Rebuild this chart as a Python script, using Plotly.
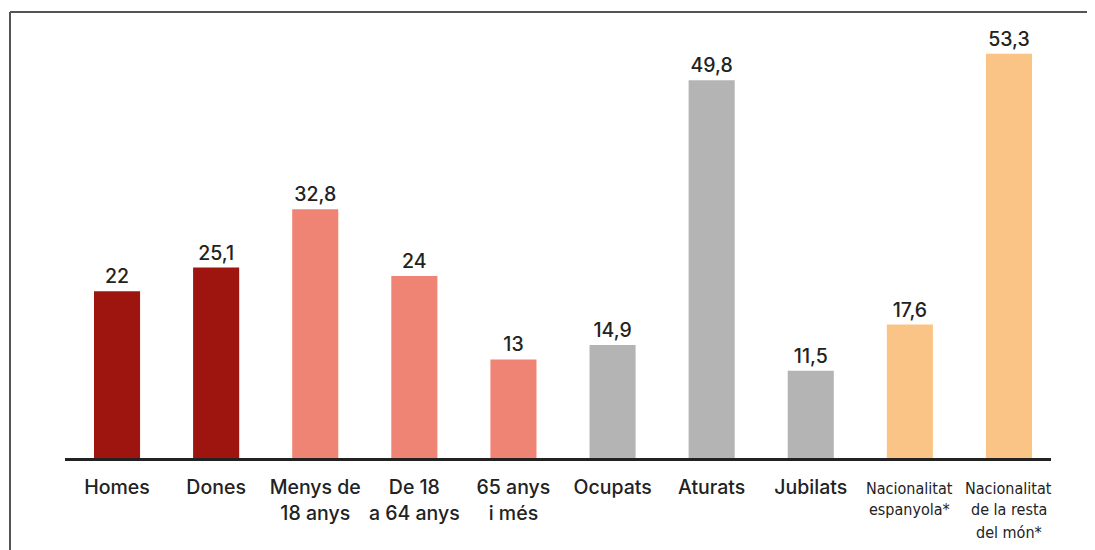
import plotly.graph_objects as go

categories = ["Homes", "Dones", "Menys de<br>18 anys", "De 18<br>a 64 anys", "65 anys<br>i més",
              "Ocupats", "Aturats", "Jubilats", "", ""]
small_labels = {8: ["Nacionalitat", "espanyola*"], 9: ["Nacionalitat", "de la resta", "del món*"]}
values = [22, 25.1, 32.8, 24, 13, 14.9, 49.8, 11.5, 17.6, 53.3]
value_labels = ["22", "25,1", "32,8", "24", "13", "14,9", "49,8", "11,5", "17,6", "53,3"]
colors = ["#9E1510", "#9E1510", "#F08474", "#F08474", "#F08474",
          "#B4B4B4", "#B4B4B4", "#B4B4B4", "#FBC487", "#FBC487"]

W, H = 1095, 550
OFF = 8  # page body margin
L, R, T, B = 65 - OFF, 44 + OFF, 12 - OFF, 92 + OFF

fig = go.Figure(go.Bar(
    x=list(range(len(values))), y=values, marker=dict(color=colors, line=dict(width=0)),
    text=value_labels, textposition="outside", cliponaxis=False,
    textfont=dict(size=19.5, color="#222222", family="Inter", weight=500),
    width=0.465,
))

fig.update_layout(
    width=W, height=H, margin=dict(l=L, r=R, t=T, b=B),
    paper_bgcolor="white", plot_bgcolor="white", showlegend=False,
    xaxis=dict(tickmode="array", tickvals=list(range(len(values))), ticktext=categories,
               range=[-0.525, len(values) - 1 + 0.424], showline=True, linecolor="#222222", linewidth=3,
               ticks="", showgrid=False, zeroline=False, ticklabelstandoff=10,
               tickfont=dict(size=19.5, color="#222222", family="Inter", weight=500)),
    yaxis=dict(range=[0, 58.8], visible=False, showgrid=False, zeroline=False),
)

pw = W - L - R
ph = H - T - B
def px_x(p):
    return (p - OFF - L) / pw
def px_y(p):
    return (H - B - (p - OFF)) / ph

line_centers = [488, 510, 532]
for i, lines in small_labels.items():
    for j, txt in enumerate(lines):
        fig.add_annotation(x=i, xref="x", y=px_y(line_centers[j]), yref="paper", yanchor="middle",
                           showarrow=False, text=txt,
                           font=dict(size=16, color="#222222",
                                     family="Liberation Sans Narrow, DejaVu Sans Condensed, Roboto"))

fig.add_shape(type="line", xref="paper", yref="paper", x0=px_x(10), x1=px_x(W + 10), y0=px_y(12), y1=px_y(12),
              line=dict(color="#555555", width=2))
fig.add_shape(type="line", xref="paper", yref="paper", x0=px_x(10), x1=px_x(10), y0=px_y(12), y1=px_y(H + 10),
              line=dict(color="#555555", width=2))

fig.write_html("out.html")
